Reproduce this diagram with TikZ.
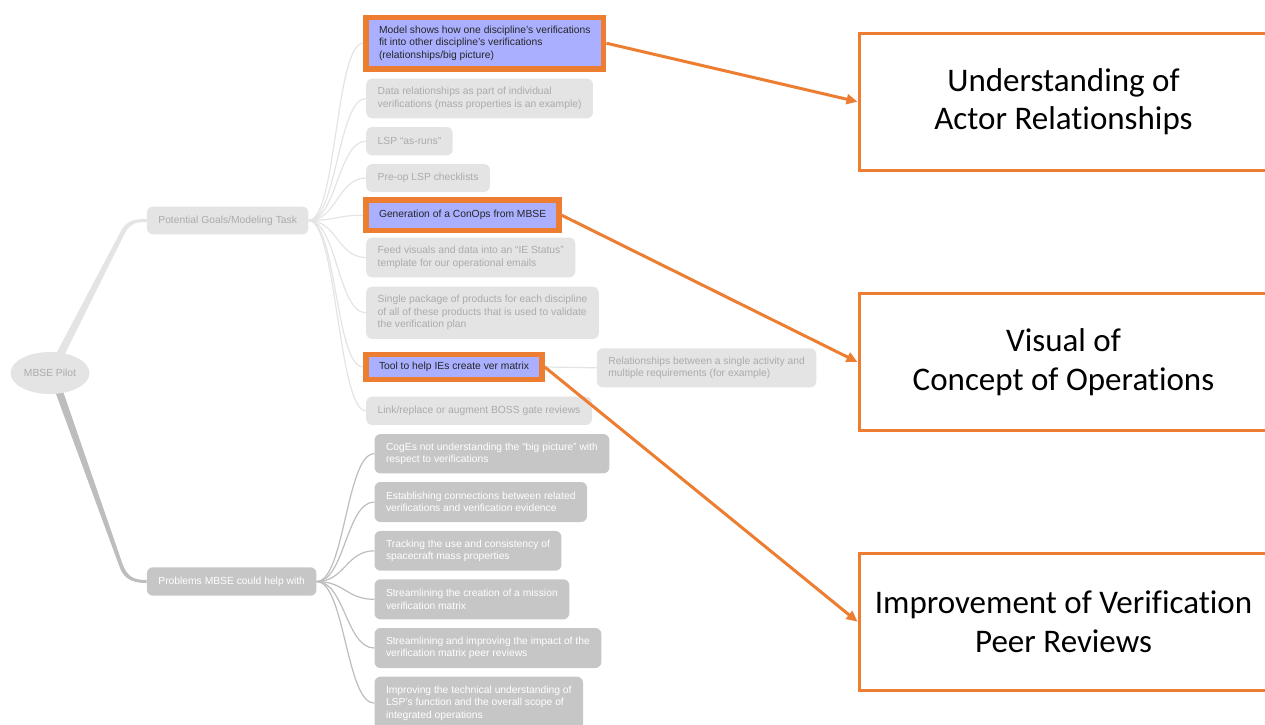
\documentclass[tikz,border=0pt]{standalone}
\usepackage{fontspec}
\setmainfont{Liberation Sans}
\newfontfamily\slidefont[Ligatures=NoCommon]{Carlito}
\usetikzlibrary{shapes.geometric,arrows.meta,calc,backgrounds}

\definecolor{lightbox}{HTML}{E4E4E4}
\definecolor{lighttext}{HTML}{ABABAB}
\definecolor{darkbox}{HTML}{C6C6C6}
\definecolor{lightline}{HTML}{E4E4E4}
\definecolor{darkline}{HTML}{BDBDBD}
\definecolor{pickfill}{HTML}{AAB0FF}
\definecolor{slideorange}{HTML}{ED7D31}

\begin{document}
\begin{tikzpicture}
	[x=1pt, y=-1pt, >={Triangle[length=11pt,width=10pt]},
	 mapfont/.style={font=\fontsize{10.3}{12.5}\selectfont},
	 rootnode/.style={ellipse, mapfont, fill=lightbox, text=lighttext, minimum width=79pt, minimum height=42pt, inner sep=0pt},
	 lightnode/.style={mapfont, fill=lightbox, text=lighttext, rounded corners=6pt, inner xsep=11.5pt, inner ysep=3pt, align=left, anchor=west},
	 darknode/.style={lightnode, fill=darkbox, text=white},
	 picknode/.style={mapfont, fill=pickfill, draw=slideorange, line width=5.5pt, text=black!85, inner xsep=13pt, inner ysep=3pt, align=left, anchor=west},
	 outcome/.style={draw=slideorange, line width=3pt, fill=white, font=\slidefont\fontsize{33}{38.5}\selectfont, align=center, anchor=west, minimum width=409pt, minimum height=137pt},
	 tall/.style={minimum height=#1}]

	\useasboundingbox (0,0) rectangle (1265,724);
	\clip (0,0) rectangle (1265,724);

	% mind map
	\begin{scope}
		% root and the two branches
		\node[rootnode] (root) at (50,373) {MBSE Pilot};
		\node[lightnode, tall=27.6pt] (goal) at (146.7,220.5) {Potential Goals/Modeling Task};
		\node[darknode, tall=28.4pt] (prob) at (146.7,581.5) {Problems MBSE could help with};

		% goals
		\begin{scope}
			\node[picknode, tall=51.5pt] (g1) at (363.25,43.2) {Model shows how one discipline’s verifications\\fit into other discipline’s verifications\\(relationships/big picture)};
			\node[lightnode, tall=39.6pt] (g2) at (366,98.5) {Data relationships as part of individual\\verifications (mass properties is an example)};
			\node[lightnode, tall=28.3pt] (g3) at (366,141.2) {LSP “as-runs”};
			\node[lightnode, tall=28pt] (g4) at (366,178) {Pre-op LSP checklists};
			\node[picknode, tall=30.5pt] (g5) at (363.25,215.3) {Generation of a ConOps from MBSE};
			\node[lightnode, tall=39.7pt] (g6) at (366,257.5) {Feed visuals and data into an “IE Status”\\template for our operational emails};
			\node[lightnode, tall=52.3pt] (g7) at (366,312.8) {Single package of products for each discipline\\of all of these products that is used to validate\\the verification plan};
			\node[picknode, tall=25pt] (g8) at (363.25,367) {Tool to help IEs create ver matrix};
			\node[lightnode, tall=28.3pt] (g9) at (366,410.8) {Link/replace or augment BOSS gate reviews};
			\node[lightnode, tall=39pt] (rel) at (596.7,367.8) {Relationships between a single activity and\\multiple requirements (for example)};
		\end{scope}

		% problems
		\begin{scope}
			\node[darknode, tall=39.3pt] (p1) at (374.3,453.7) {CogEs not understanding the “big picture” with\\respect to verifications};
			\node[darknode, tall=40pt] (p2) at (374.3,502) {Establishing connections between related\\verifications and verification evidence};
			\node[darknode, tall=39.7pt] (p3) at (374.3,550.8) {Tracking the use and consistency of\\spacecraft mass properties};
			\node[darknode, tall=40pt] (p4) at (374.3,599.3) {Streamlining the creation of a mission\\verification matrix};
			\node[darknode, tall=40pt] (p5) at (374.3,648) {Streamlining and improving the impact of the\\verification matrix peer reviews};
			\node[darknode, tall=53pt] (p6) at (374.3,703.2) {Improving the technical understanding of\\LSP’s function and the overall scope of\\integrated operations};
		\end{scope}

		% connectors
		\begin{scope}[on background layer]
			\newcommand{\CtrlLength}{28}
			% tapered branches
			\fill[lightline] ($(root.north)+(6,2)$) -- ($(goal.west)+(-25,9)$)
				.. controls ($(goal.west)+(-19,0)$) and ($(goal.west)+(-13,-1.5)$) .. ($(goal.west)+(0,-1.5)$)
				-- ($(goal.west)+(0,1.5)$)
				.. controls ($(goal.west)+(-11,1.5)$) and ($(goal.west)+(-16,3)$) .. ($(goal.west)+(-21,11)$)
				-- ($(root.north)+(14,4)$) -- cycle;
			\fill[darkline] ($(root.south)+(13,-3)$) -- ($(prob.west)+(-25,-20)$)
				.. controls ($(prob.west)+(-20,-5)$) and ($(prob.west)+(-14,-1.5)$) .. ($(prob.west)+(0,-1.5)$)
				-- ($(prob.west)+(0,1.5)$)
				.. controls ($(prob.west)+(-18,1.5)$) and ($(prob.west)+(-24,-5)$) .. ($(prob.west)+(-28,-17)$)
				-- ($(root.south)+(5,-3)$) -- cycle;

			% thin links
			\begin{scope}[line width=1.2pt]
				\foreach \i in {1,...,9} {
					\draw[lightline] (goal.east) .. controls +(\CtrlLength,0) and +(-\CtrlLength,0) .. (g\i.west);
				}
				\draw[lightline] (g8.east) -- (rel.west);
				\foreach \i in {1,...,6} {
					\draw[darkline] (prob.east) .. controls +(\CtrlLength,0) and +(-\CtrlLength,0) .. (p\i.west);
				}
			\end{scope}
		\end{scope}
	\end{scope}

	% slide boxes
	\begin{scope}
		\node[outcome] (actors) at (857.5,101.7) {Understanding of\\Actor Relationships};
		\node[outcome] (conops) at (857.5,362) {Visual of\\Concept of Operations};
		\node[outcome] (reviews) at (857.5,621.7) {Improvement of Verification\\Peer Reviews};
	\end{scope}

	% arrows
	\begin{scope}[->, slideorange, line width=3pt]
		\draw (g1.east) -- (actors.west);
		\draw (g5.east) -- (conops.west);
		\draw (g8.east) -- (reviews.west);
	\end{scope}

\end{tikzpicture}
\end{document}
